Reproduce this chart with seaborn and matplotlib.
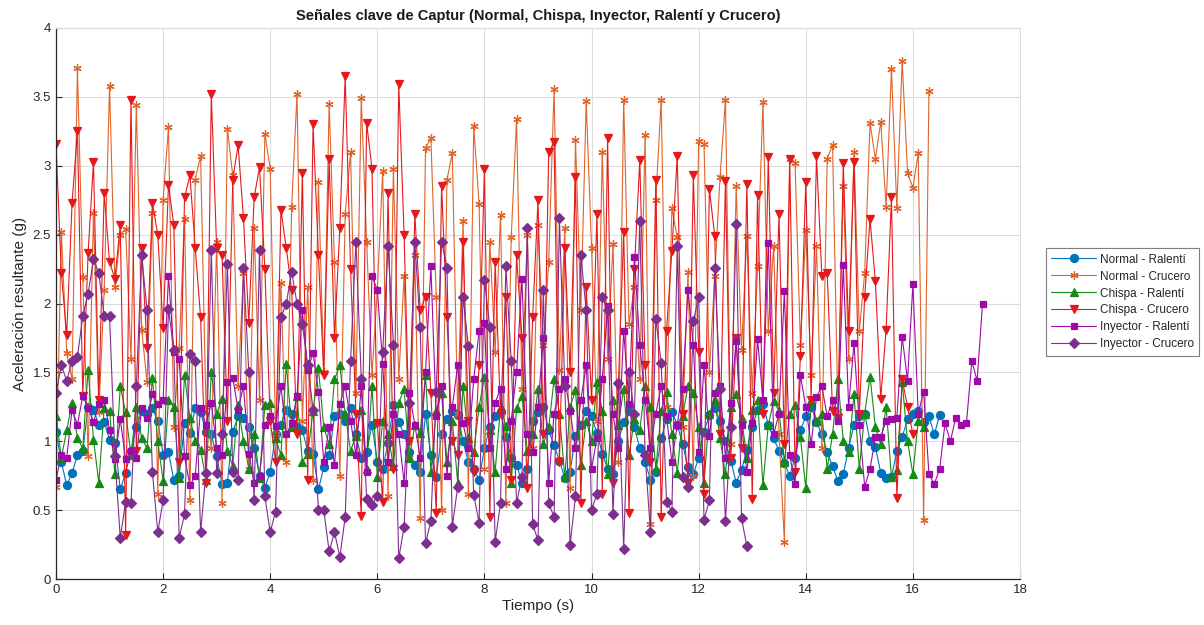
import numpy as np
import pandas as pd
import matplotlib
matplotlib.use("Agg")
import matplotlib.pyplot as plt
import seaborn as sns

# ---------------- data ----------------
dt = 0.1  # sampling period (s)

normal_ralenti = [
    1.07, 0.85, 0.68, 0.77, 0.90, 0.93, 1.25, 1.23, 1.12, 1.14,
    1.01, 0.99, 0.65, 0.77, 0.93, 1.10, 1.22, 1.20, 1.24, 1.15,
    0.90, 0.92, 0.72, 0.75, 1.13, 1.06, 1.24, 1.21, 1.07, 1.05,
    0.89, 0.69, 0.70, 1.07, 1.18, 1.17, 1.10, 0.95, 0.75, 0.66,
    0.78, 1.05, 1.12, 1.23, 1.20, 1.10, 1.08, 0.93, 0.91, 0.65,
    0.81, 0.90, 1.18, 1.20, 1.15, 1.24, 1.05, 0.88, 0.92, 1.12,
    0.85, 0.80, 0.99, 1.26, 1.14, 1.05, 0.92, 0.83, 0.78, 1.20,
    0.90, 0.74, 1.05, 1.16, 1.22, 1.19, 1.00, 0.85, 0.80, 0.72,
    0.95, 1.10, 1.18, 1.21, 1.03, 0.88, 0.83, 0.70, 0.80, 1.15,
    1.21, 1.25, 1.08, 0.97, 0.86, 0.73, 0.78, 1.04, 1.12, 1.22,
    1.18, 1.06, 0.91, 0.80, 0.76, 1.00, 1.14, 1.22, 1.10, 0.95,
    0.85, 0.72, 0.78, 1.02, 1.16, 1.21, 1.12, 0.98, 0.81, 0.76,
    0.88, 1.07, 1.19, 1.24, 1.15, 1.00, 0.86, 0.70, 0.79, 0.94,
    1.10, 1.23, 1.27, 1.12, 1.02, 0.93, 0.84, 0.75, 0.88, 1.08,
    1.18, 1.25, 1.14, 1.05, 0.92, 0.82, 0.71, 0.76, 0.95, 1.12,
    1.18, 1.20, 1.00, 0.96, 0.77, 0.73, 0.74, 0.93, 1.03, 1.16,
    1.20, 1.22, 1.14, 1.18, 1.05, 1.19,
]

normal_crucero = [
    0.67, 2.52, 1.64, 1.45, 3.71, 2.19, 0.89, 2.66, 1.21, 2.10,
    3.58, 2.12, 2.50, 2.54, 1.60, 3.44, 1.81, 1.43, 2.66, 0.62,
    2.75, 3.28, 1.10, 1.68, 2.61, 0.57, 2.90, 3.07, 1.25, 0.95,
    2.45, 0.55, 3.27, 2.93, 1.40, 2.22, 0.80, 2.55, 1.30, 3.23,
    2.98, 1.05, 2.15, 0.85, 2.70, 3.52, 1.15, 2.12, 0.72, 2.88,
    1.50, 3.45, 2.30, 0.75, 2.65, 3.10, 1.35, 3.49, 2.45, 1.48,
    2.10, 2.96, 0.60, 2.98, 1.45, 2.20, 0.88, 2.35, 0.44, 3.13,
    3.20, 2.05, 0.50, 2.90, 3.09, 1.20, 2.60, 0.62, 3.29, 2.72,
    0.80, 2.45, 1.65, 2.64, 0.55, 2.48, 3.34, 1.38, 2.50, 0.95,
    2.57, 1.70, 2.30, 3.56, 1.52, 2.55, 0.66, 3.19, 1.95, 3.47,
    2.40, 1.15, 3.10, 1.60, 2.43, 0.85, 3.48, 1.85, 2.12, 1.45,
    3.22, 0.40, 2.75, 3.48, 1.25, 2.69, 2.48, 1.10, 2.23, 0.75,
    3.18, 3.16, 1.50, 2.20, 2.92, 3.48, 0.98, 2.85, 1.66, 2.49,
    1.35, 2.27, 3.46, 1.80, 2.42, 1.05, 0.27, 3.05, 3.02, 1.70,
    2.53, 1.48, 2.42, 0.95, 3.05, 3.15, 1.22, 2.85, 1.60, 3.10,
    1.80, 2.22, 3.31, 3.05, 3.32, 2.70, 3.70, 2.69, 3.76, 2.95,
    2.84, 3.09, 0.43, 3.54,
]

chispa_ralenti = [
    1.18, 0.88, 1.08, 1.28, 1.02, 0.95, 1.52, 1.01, 0.70, 1.24,
    1.22, 0.76, 1.40, 1.21, 0.90, 1.25, 1.02, 0.95, 1.46, 1.00,
    0.71, 1.30, 1.25, 0.73, 1.48, 1.17, 1.00, 0.94, 0.72, 1.50,
    1.20, 1.31, 0.93, 0.82, 1.26, 1.00, 0.80, 1.05, 0.73, 1.26,
    1.28, 1.02, 0.90, 1.56, 1.10, 1.33, 0.85, 0.91, 1.22, 1.53,
    1.10, 0.98, 1.45, 1.55, 1.20, 0.93, 1.04, 1.23, 0.80, 1.40,
    0.74, 1.15, 1.05, 0.82, 1.28, 1.38, 0.88, 1.12, 1.06, 1.48,
    0.78, 1.22, 1.35, 0.85, 1.15, 0.70, 1.40, 1.02, 0.92, 1.25,
    1.47, 1.08, 0.78, 1.25, 1.11, 0.70, 1.24, 1.33, 0.93, 1.05,
    1.38, 0.98, 1.10, 1.45, 1.20, 0.74, 1.25, 1.37, 0.83, 1.15,
    1.00, 1.43, 1.22, 0.76, 1.30, 1.12, 1.38, 0.90, 1.16, 1.08,
    1.40, 1.25, 0.80, 1.22, 1.36, 1.05, 0.77, 1.18, 1.40, 1.35,
    1.10, 0.70, 1.20, 1.30, 1.02, 0.76, 1.25, 1.34, 1.17, 0.88,
    1.23, 1.30, 0.68, 1.12, 1.29, 1.22, 0.85, 1.20, 1.26, 1.03,
    0.66, 1.30, 1.15, 1.20, 0.80, 1.05, 1.45, 1.00, 0.92, 1.34,
    0.80, 1.20, 1.47, 1.10, 0.98, 1.25, 0.74, 0.79, 1.43, 1.00,
    0.76, 1.15, 1.10,
]

chispa_crucero = [
    3.16, 2.22, 1.77, 2.73, 3.25, 1.33, 2.37, 3.03, 1.30, 2.80,
    2.30, 2.18, 2.57, 0.32, 3.48, 0.93, 2.40, 1.68, 2.73, 2.50,
    1.82, 2.86, 2.57, 0.85, 2.77, 2.93, 2.40, 1.90, 0.70, 3.52,
    2.40, 2.35, 1.15, 2.90, 3.15, 2.62, 1.86, 2.77, 2.99, 2.25,
    1.15, 0.85, 2.68, 2.40, 2.10, 1.05, 2.95, 0.72, 3.30, 2.35,
    1.48, 3.05, 1.75, 2.55, 3.65, 2.25, 1.20, 0.46, 3.31, 2.98,
    1.13, 0.56, 2.80, 0.80, 3.59, 2.50, 1.00, 2.65, 1.95, 2.05,
    1.35, 0.48, 2.85, 1.90, 1.00, 0.90, 2.45, 1.15, 0.78, 1.55,
    2.98, 0.45, 2.30, 1.20, 2.05, 0.72, 2.35, 1.75, 0.66, 1.90,
    2.75, 1.05, 3.10, 3.17, 0.85, 2.40, 1.50, 2.92, 0.55, 2.12,
    1.30, 2.65, 0.62, 3.20, 0.70, 1.40, 2.52, 0.48, 2.25, 3.04,
    1.55, 0.85, 2.90, 0.45, 1.80, 2.38, 3.07, 1.20, 0.70, 2.93,
    1.65, 0.62, 2.83, 2.49, 1.05, 2.89, 0.88, 1.75, 0.95, 2.87,
    0.58, 2.79, 1.20, 3.06, 1.35, 2.65, 0.98, 3.05, 0.78, 1.62,
    2.88, 1.30, 3.07, 2.20, 2.22, 1.22, 1.17, 3.02, 1.80, 3.03,
    1.20, 2.05, 2.61, 2.16, 1.31, 1.81, 2.77, 0.59, 1.45, 1.25,
    1.05,
]

inyector_ralenti = [
    0.72, 0.90, 0.88, 1.23, 1.12, 1.33, 1.24, 1.14, 1.27, 1.30,
    1.08, 0.87, 1.16, 0.87, 0.93, 0.88, 1.24, 1.17, 1.34, 1.27,
    1.30, 2.20, 1.65, 1.60, 0.89, 0.68, 0.75, 1.24, 1.12, 1.28,
    0.95, 0.90, 1.43, 1.46, 1.23, 1.40, 0.91, 0.70, 0.75, 1.12,
    1.18, 1.11, 1.40, 1.05, 1.13, 1.33, 1.95, 1.52, 1.64, 1.36,
    0.85, 1.10, 0.83, 1.27, 1.40, 1.15, 0.90, 1.40, 0.78, 2.20,
    2.10, 1.56, 0.85, 1.20, 1.05, 0.70, 1.35, 1.12, 0.88, 1.50,
    2.27, 1.18, 1.40, 0.75, 1.25, 1.55, 1.13, 0.95, 1.45, 1.80,
    1.86, 0.95, 1.28, 1.38, 0.80, 1.15, 1.50, 2.18, 1.05, 0.92,
    1.25, 1.75, 0.70, 1.20, 1.38, 1.45, 1.22, 0.95, 1.30, 1.55,
    0.80, 1.02, 1.45, 1.98, 1.20, 0.95, 1.80, 1.27, 2.34, 1.70,
    1.30, 0.95, 1.20, 1.40, 1.18, 0.85, 1.12, 1.38, 2.10, 1.70,
    0.92, 1.55, 1.04, 1.35, 1.40, 0.88, 1.28, 1.73, 1.12, 0.78,
    1.13, 1.74, 1.30, 2.44, 1.05, 1.20, 2.09, 0.90, 0.69, 1.48,
    1.25, 0.98, 1.32, 1.40, 1.18, 1.30, 1.15, 2.28, 1.25, 1.71,
    1.12, 0.67, 0.80, 1.03, 1.03, 1.15, 1.16, 1.17, 1.76, 1.44,
    2.14, 1.20, 1.36, 0.76, 0.69, 0.80, 1.13, 1.00, 1.17, 1.12,
    1.13, 1.58, 1.44, 2.00,
]

inyector_crucero = [
    1.35, 1.55, 1.44, 1.58, 1.61, 1.91, 2.07, 2.32, 2.22, 1.91,
    1.91, 0.89, 0.30, 0.56, 0.55, 1.40, 2.35, 1.95, 0.78, 0.34,
    0.57, 1.96, 1.66, 0.30, 0.47, 1.63, 1.58, 0.34, 0.77, 2.39,
    0.77, 1.05, 2.29, 0.78, 0.72, 2.26, 1.50, 0.57, 2.39, 0.60,
    0.34, 0.49, 1.90, 2.00, 2.23, 2.00, 1.85, 1.55, 1.23, 0.50,
    0.50, 0.20, 0.34, 0.16, 0.45, 1.58, 2.45, 1.45, 0.58, 0.54,
    0.60, 1.65, 2.42, 1.70, 0.15, 0.38, 1.28, 2.45, 1.83, 0.26,
    0.42, 1.36, 2.45, 2.26, 0.38, 0.67, 2.05, 1.69, 0.61, 0.41,
    2.17, 1.83, 0.27, 0.55, 2.27, 1.58, 0.55, 0.74, 2.55, 0.40,
    0.28, 2.10, 0.55, 0.45, 2.62, 1.40, 0.25, 0.60, 2.35, 1.95,
    0.50, 0.62, 2.05, 1.95, 0.47, 1.42, 0.22, 1.50, 1.20, 2.60,
    0.90, 0.34, 1.89, 1.57, 0.56, 0.49, 2.42, 0.74, 0.67, 1.87,
    2.05, 0.43, 0.57, 2.26, 1.38, 0.42, 1.10, 2.58, 0.44, 0.24,
]

series_labels = ["Normal - Ralentí", "Normal - Crucero", "Chispa - Ralentí",
                 "Chispa - Crucero", "Inyector - Ralentí", "Inyector - Crucero"]
title_text = "Señales clave de Captur (Normal, Chispa, Inyector, Ralentí y Crucero)"
x_label = "Tiempo (s)"
y_label = "Aceleración resultante (g)"
x_ticks = [0, 2, 4, 6, 8, 10, 12, 14, 16, 18]
y_ticks = [0, 0.5, 1, 1.5, 2, 2.5, 3, 3.5, 4]
y_tick_labels = ["0", "0.5", "1", "1.5", "2", "2.5", "3", "3.5", "4"]

# ---------------- style ----------------
sns.set_theme(style="white")
plt.rcParams["font.family"] = ["Liberation Sans", "DejaVu Sans"]

colors = ["#0072BD", "#E0642A", "#158A15", "#E3191C", "#9E0AA8", "#7E2F8E"]
markers = ["o", (6, 2, 0), "^", "v", "s", "D"]
msizes = [5.8, 6.0, 5.8, 6.0, 5.0, 5.0]

all_series = [normal_ralenti, normal_crucero, chispa_ralenti,
              chispa_crucero, inyector_ralenti, inyector_crucero]

fig = plt.figure(figsize=(12.04, 6.25), dpi=100)
fig.patch.set_facecolor("white")
ax = fig.add_axes([56 / 1204, 1 - 579 / 625, (1020 - 56) / 1204, (579 - 28) / 625])

for vals, lab, c, m, ms in zip(all_series, series_labels, colors, markers, msizes):
    df = pd.DataFrame({"t": np.arange(len(vals)) * dt, "a": vals})
    sns.lineplot(data=df, x="t", y="a", ax=ax, color=c, label=lab,
                 marker=m, markersize=ms, markeredgecolor=c, markerfacecolor=c,
                 markeredgewidth=0.9, linewidth=0.8, sort=False, estimator=None)

ax.set_xlim(0, 18)
ax.set_ylim(0, 4)
ax.set_xticks(x_ticks)
ax.set_xticklabels([str(v) for v in x_ticks])
ax.set_yticks(y_ticks)
ax.set_yticklabels(y_tick_labels)
ax.grid(True, color="#DCDCDC", linewidth=0.8)
ax.set_axisbelow(True)
ax.tick_params(direction="in", length=4, width=0.8, colors="#262626",
               labelsize=9.5, top=False, right=False, bottom=True, left=True)
for s in ["left", "bottom"]:
    ax.spines[s].set_color("#262626")
    ax.spines[s].set_linewidth(0.9)
for s in ["top", "right"]:
    ax.spines[s].set_color("#DCDCDC")
    ax.spines[s].set_linewidth(0.8)

ax.set_title(title_text, fontsize=10.5, fontweight="bold", color="#1a1a1a", pad=6)
ax.set_xlabel(x_label, fontsize=11, color="#262626", labelpad=2)
ax.set_ylabel(y_label, fontsize=11, color="#262626", labelpad=4)

leg = ax.legend(loc="center left", bbox_to_anchor=(1040 / 1204, 1 - 302 / 625),
                bbox_transform=fig.transFigure, fontsize=8.5, frameon=True,
                fancybox=False, edgecolor="#7f7f7f", framealpha=1,
                handlelength=3.8, handletextpad=0.3, borderpad=0.45,
                labelspacing=0.42)
leg.get_frame().set_linewidth(0.8)

fig.savefig("out.png", dpi=100, facecolor="white")
